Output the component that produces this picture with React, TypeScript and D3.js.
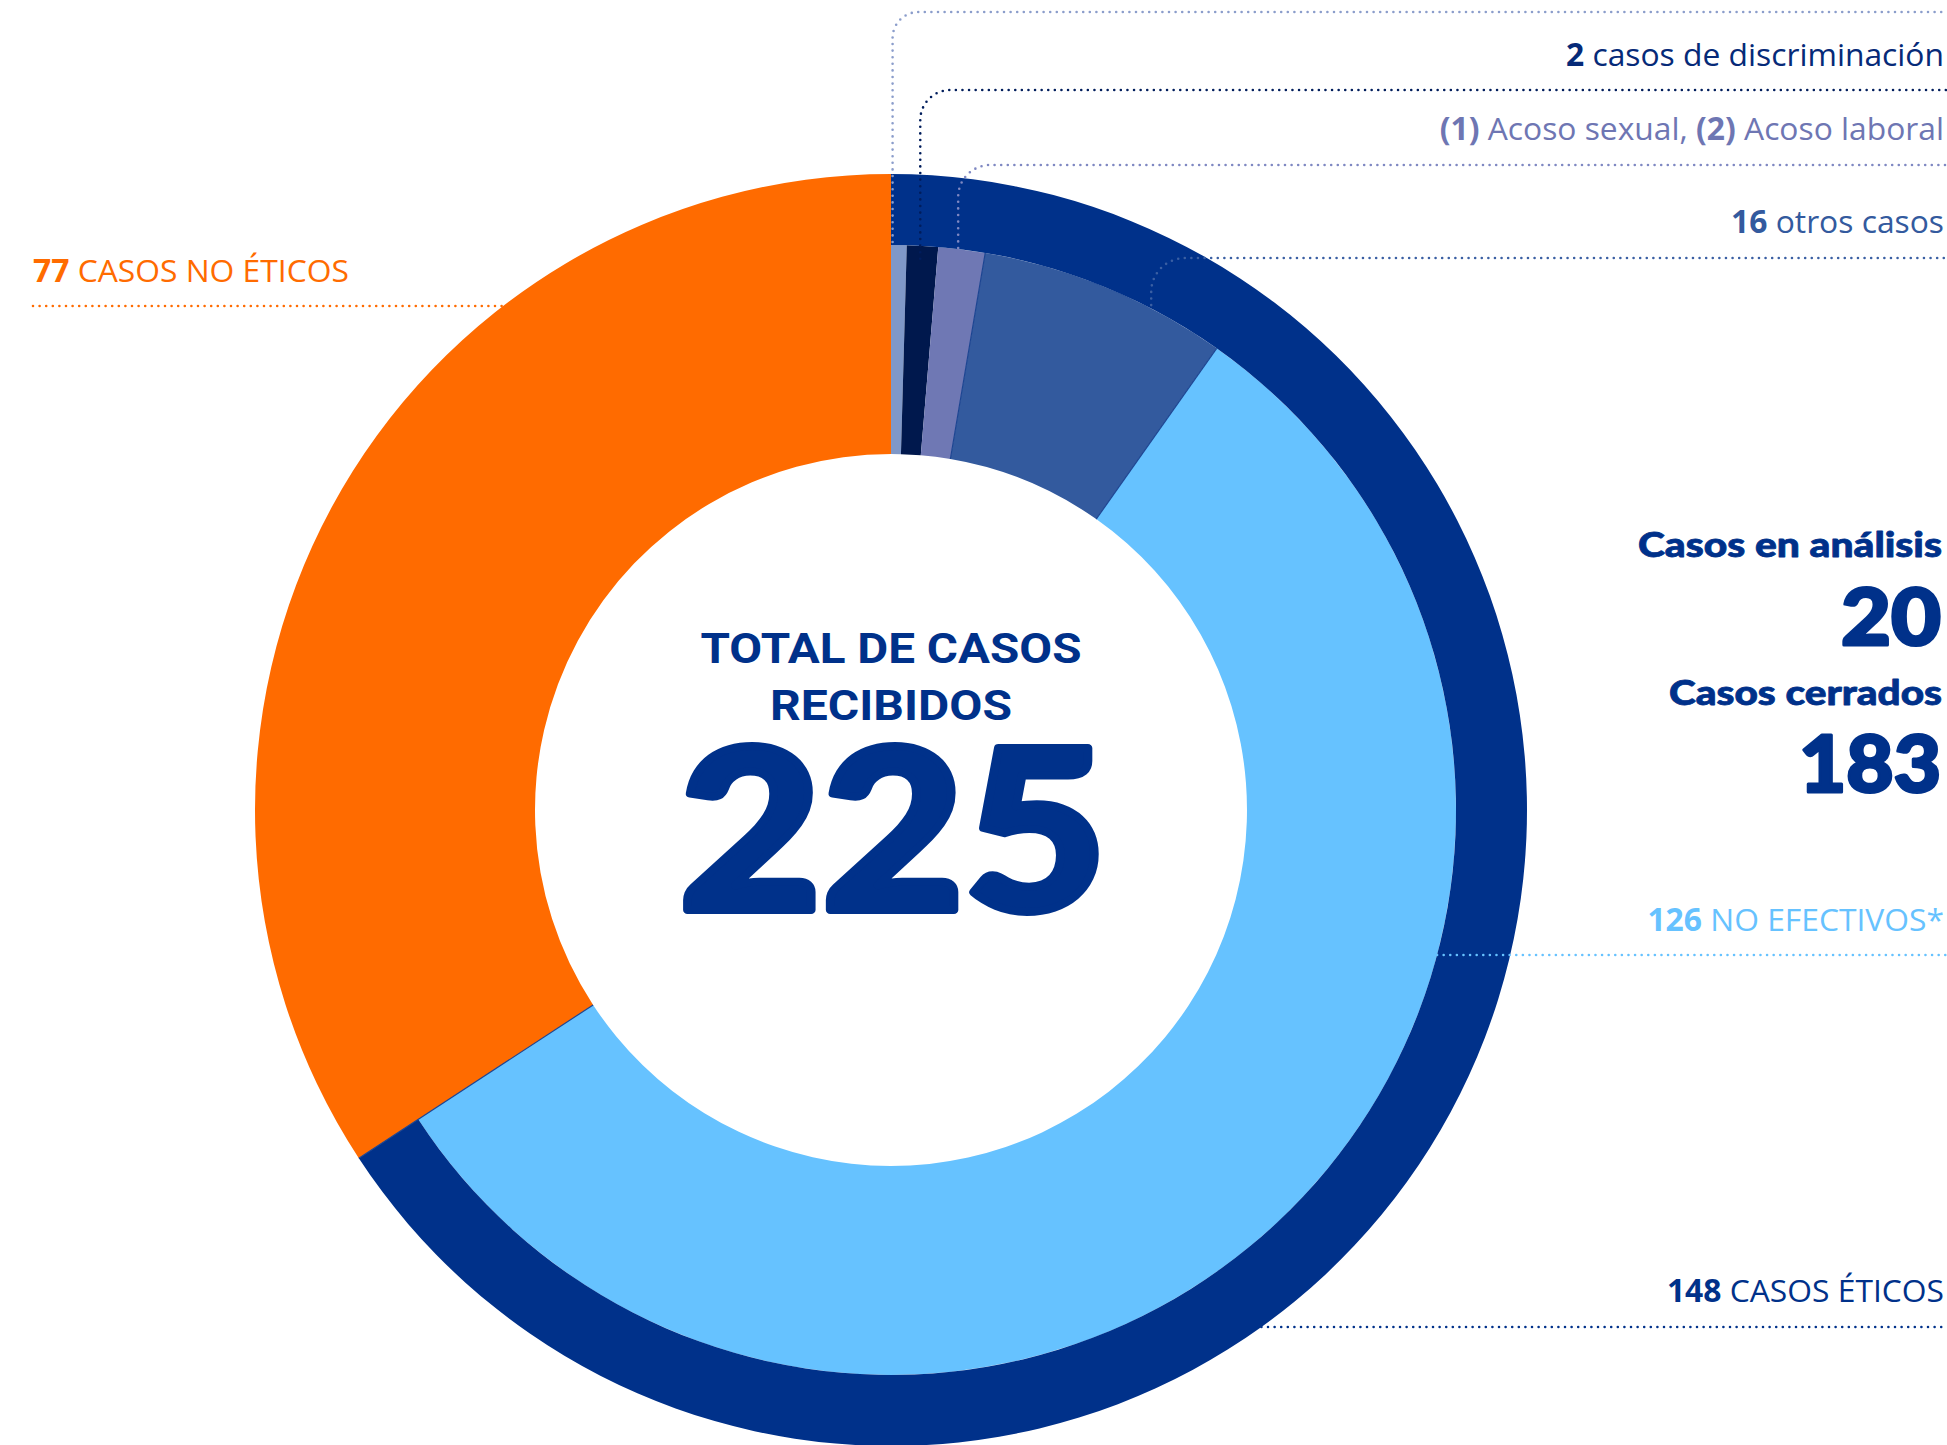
import React from 'react';
import * as d3 from 'd3';

// slices of the donut, clockwise from 12 o'clock
const sliceNames = ['sinEtiqueta', 'discriminacion', 'acoso', 'otros', 'noEfectivos', 'noEticos'];
const sliceValues = [1, 2, 3, 16, 126, 77];
const sliceColors = ['#7f98c8', '#00184d', '#6f78b4', '#335a9e', '#66c2ff', '#ff6b00'];

// outer ring groups
const groupNames = ['eticos', 'noEticos'];
const groupValues = [148, 77];

const totalCases = 225;
const statusLabels = ['Casos en análisis', 'Casos cerrados'];
const statusValues = [20, 183];

// label texts: [text, bold] pairs
const topLabelParts = [
  [],
  [['2', true], [' casos de discriminación', false]],
  [['(1)', true], [' Acoso sexual, ', false], ['(2)', true], [' Acoso laboral', false]],
  [['16', true], [' otros casos', false]],
];
const noEticosLabel = [['77', true], [' CASOS NO ÉTICOS', false]];
const noEfectivosLabel = [['126', true], [' NO EFECTIVOS*', false]];
const eticosLabel = [['148', true], [' CASOS ÉTICOS', false]];

const W = 1947;
const H = 1445;
const cx = 891;
const cy = 810;
const rIn = 356;
const rMid = 565;
const rOut = 636;
const rightX = 1944;

const darkBlue = '#00318a';
const labelFont = '"Open Sans", "Noto Sans", sans-serif';
const labelSize = 31.8;
const heavyFont = 'Lato, "Open Sans", sans-serif';

// leader layout for the four small top slices
const leaderFrac = [0.1, 0.45, 0.42, 0.69];
const leaderEndR = [568, 552, 566, 568];
const leaderY = [12, 90, 165, 258];
const leaderCorner = [26, 30, 32, 34];
const leaderColors = ['#8b9dcb', '#001d5c', '#7f88c2', '#3a5fa3'];
const labelBaseline = [-14, 66, 140, 233];
const labelColors = ['#7f98c8', '#062a78', '#6e76b3', '#335a9e'];

const dots = { strokeWidth: 2.6, strokeDasharray: '0 6.6', strokeLinecap: 'round' as const, fill: 'none' };

const Parts = ({ parts }) =>
  parts.map(([t, b], i) => (
    <tspan key={i} fontWeight={b ? 700 : 400}>
      {t}
    </tspan>
  ));

export default function App() {
  const pie = d3.pie<number>().sort(null).startAngle(0).endAngle(2 * Math.PI);
  const slices = pie(sliceValues);
  const groups = pie(groupValues);

  const arcInner = d3.arc<d3.PieArcDatum<number>>().innerRadius(rIn).outerRadius(rMid);
  const arcOrange = d3.arc<d3.PieArcDatum<number>>().innerRadius(rIn).outerRadius(rOut);
  const arcRing = d3.arc<d3.PieArcDatum<number>>().innerRadius(rMid).outerRadius(rOut);

  const pt = (a: number, r: number) => [cx + r * Math.sin(a), cy - r * Math.cos(a)];

  // separator lines between the bigger slices
  const separators = [3, 4, 5].map((i) => {
    const a = slices[i].startAngle;
    const [x1, y1] = pt(a, rIn);
    const [x2, y2] = pt(a, i === 5 ? rOut : rMid);
    return { x1, y1, x2, y2 };
  });

  const leaders = [0, 1, 2, 3].map((i) => {
    const s = slices[i];
    const a = s.startAngle + (s.endAngle - s.startAngle) * leaderFrac[i];
    const [x, y0] = pt(a, leaderEndR[i]);
    const y = leaderY[i];
    const c = leaderCorner[i];
    return `M${x},${y0}V${y + c}A${c},${c} 0 0 1 ${x + c},${y}H${W}`;
  });

  const orangeLineY = 306;
  const orangeLineX = cx - Math.sqrt(rOut * rOut - (cy - orangeLineY) ** 2);
  const efLineY = 955;
  const efLineX = cx + Math.sqrt(rMid * rMid - (efLineY - cy) ** 2);
  const etLineY = 1327;
  const etLineX = cx + Math.sqrt(rOut * rOut - (etLineY - cy) ** 2);

  return (
    <svg width={W} height={H} style={{ position: 'absolute', left: 0, top: 0, background: '#fff' }}>
      <g transform={`translate(${cx},${cy})`}>
        {slices.map((s, i) => (
          <path
            key={sliceNames[i]}
            d={(i === 5 ? arcOrange : arcInner)(s) as string}
            fill={sliceColors[i]}
          />
        ))}
        <path d={arcRing(groups[0]) as string} fill={darkBlue} />
      </g>
      {separators.map((l, i) => (
        <line key={i} {...l} stroke="#1d4592" strokeWidth={1.2} />
      ))}

      {leaders.map((d, i) => (
        <path key={i} d={d} stroke={leaderColors[i]} {...dots} />
      ))}
      {topLabelParts.map((parts, i) =>
        parts.length ? (
          <text
            key={i}
            x={rightX}
            y={labelBaseline[i]}
            textAnchor="end"
            fontFamily={labelFont}
            fontSize={labelSize}
            fill={labelColors[i]}
          >
            <Parts parts={parts} />
          </text>
        ) : null
      )}

      <text x={33} y={282} fontFamily={labelFont} fontSize={labelSize} fill="#ff6b00">
        <Parts parts={noEticosLabel} />
      </text>
      <line x1={33} x2={orangeLineX} y1={orangeLineY} y2={orangeLineY} stroke="#ff6b00" {...dots} />

      <text x={rightX} y={931} textAnchor="end" fontFamily={labelFont} fontSize={labelSize} fill="#66c2ff">
        <Parts parts={noEfectivosLabel} />
      </text>
      <line x1={efLineX} x2={W} y1={efLineY} y2={efLineY} stroke="#66c2ff" {...dots} />

      <text x={rightX} y={1302} textAnchor="end" fontFamily={labelFont} fontSize={labelSize} fill={darkBlue}>
        <Parts parts={eticosLabel} />
      </text>
      <line x1={etLineX} x2={W} y1={etLineY} y2={etLineY} stroke={darkBlue} {...dots} />

      {/* status block */}
      <g fill={darkBlue} stroke={darkBlue} strokeLinejoin="round" fontFamily={heavyFont} fontWeight={900} textAnchor="end">
        <text x={1942} y={557} fontSize={35} strokeWidth={0.8} textLength={304} lengthAdjust="spacingAndGlyphs">
          {statusLabels[0]}
        </text>
        <text x={1941} y={645} fontSize={79} strokeWidth={3} textLength={100} lengthAdjust="spacingAndGlyphs">
          {statusValues[0]}
        </text>
        <text x={1942} y={705} fontSize={35} strokeWidth={0.8} textLength={273} lengthAdjust="spacingAndGlyphs">
          {statusLabels[1]}
        </text>
        <text x={1941} y={792} fontSize={79} strokeWidth={3} textLength={142} lengthAdjust="spacingAndGlyphs">
          {statusValues[1]}
        </text>
      </g>

      {/* centre */}
      <g fill={darkBlue} textAnchor="middle">
        <text x={cx} y={663} fontFamily="Roboto, sans-serif" fontWeight={700} fontSize={43} textLength={381} lengthAdjust="spacingAndGlyphs">
          TOTAL DE CASOS
        </text>
        <text x={cx} y={720} fontFamily="Roboto, sans-serif" fontWeight={700} fontSize={43} textLength={242} lengthAdjust="spacingAndGlyphs">
          RECIBIDOS
        </text>
        <text
          x={cx + 2}
          y={910}
          fontFamily={heavyFont}
          fontWeight={900}
          fontSize={224}
          stroke={darkBlue}
          strokeWidth={8}
          strokeLinejoin="round"
          textLength={428}
          lengthAdjust="spacingAndGlyphs"
        >
          {totalCases}
        </text>
      </g>
    </svg>
  );
}
